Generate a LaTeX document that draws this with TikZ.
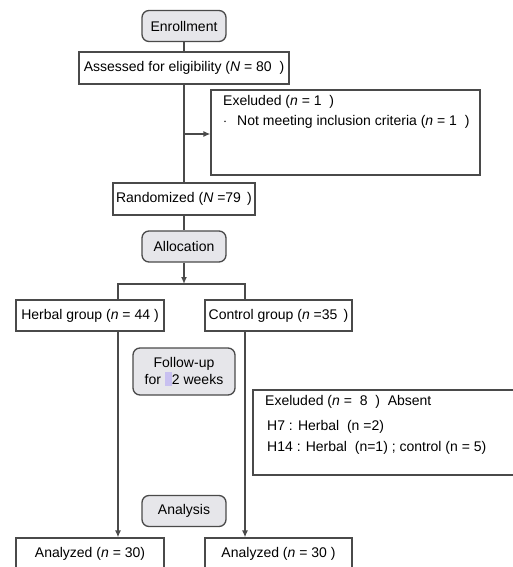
\documentclass[tikz,border=0pt]{standalone}
\usepackage{fontspec}
\setmainfont{Liberation Sans}
\usetikzlibrary{arrows.meta}
\definecolor{stagefill}{HTML}{E6E6EA}
\definecolor{edge}{HTML}{4A4A4A}
\definecolor{mark}{HTML}{C8C0F0}
\tikzset{
  box/.style={draw=edge, line width=1.3pt, minimum height=32pt, inner sep=2pt},
  stage/.style={draw=edge, line width=1.3pt, fill=stagefill, rounded corners=7pt, minimum width=84pt, minimum height=31pt, inner sep=2pt, align=center},
  txt/.style={anchor=north west, inner sep=0pt, align=left},
  link/.style={draw=edge, line width=1.3pt},
  go/.style={link, -{Latex[length=7pt,width=6pt]}}
}
\begin{document}
\begin{tikzpicture}[x=1pt,y=-1pt,font=\fontsize{14}{17}\selectfont]
			    \useasboundingbox (0,0) rectangle (512,567);
			    \node[stage] (EN) at (184,26) {Enrollment};
		    	\node[box, minimum width=210pt] (AS) at (184,68) {Assessed for eligibility (\textit{N} = 80 \ )};
		    	\node[box, minimum width=269pt, minimum height=85pt] (EX) at (345.5,132.5) {};
		    	\node[txt] (EXa) at (223,95) {Exeluded (\textit{n} = 1 \ )};
		    	\node[txt] (EXb) at (223,115) {$\cdot$\hspace{10pt}Not meeting inclusion criteria (\textit{n} = 1 \ )};
		    	\node[box, minimum width=142pt] (RA) at (184,199) {Randomized (\textit{N} =79 \,)};
		    	\node[stage] (AL) at (184,246.5) {Allocation};
		    	\coordinate (SP) at (184,284);
		    	\node[box, minimum width=148pt, minimum height=31pt] (HG) at (90,315.5) {Herbal group (\textit{n} = 44 )};
		    	\node[box, minimum width=147pt, minimum height=31pt] (CG) at (278.5,315.5) {Control group (\textit{n} =35 \,)};
		    	\node[stage, minimum width=102pt, minimum height=47pt] (FU) at (184,371.5) {Follow-up\\for {\color{mark}\rule[-2pt]{7pt}{14pt}}2 weeks};
		    	\node[box, minimum width=270pt, minimum height=85pt] (EY) at (388,432.5) {};
		    	\node[txt] (EYa) at (265,395) {Exeluded (\textit{n} = \ 8 \ ) \ Absent};
		    	\node[txt] (EYb) at (267,420) {H7 : Herbal \ (n =2)};
		    	\node[txt] (EYc) at (267,441) {H14 : Herbal \ (n=1) ; control (n = 5)};
		    	\node[stage] (AN) at (184,511) {Analysis};
		    	\node[box, minimum width=148pt] (HA) at (90,554) {Analyzed (\textit{n} = 30)};
		    	\node[box, minimum width=147pt] (CA) at (278.5,554) {Analyzed (\textit{n} = 30 )};
		    	
		    	\draw[link] (EN)--(AS);
		    	\draw[link] (AS)--(RA);
		    	\draw[go] (184,134)--(EX.west |- 0,134);
		    	\draw[link] (RA)--(AL);
		    	\draw[go] (AL)--(SP);
		    	\draw[link] (HG.north -| 118,0)--(118,284)--(245,284)--(CG.north -| 245,0);
		    	\draw[go] (HG.south -| 118,0)--(HA.north -| 118,0);
	    	    \draw[go] (CG.south -| 245,0)--(CA.north -| 245,0);
		    \end{tikzpicture}
\end{document}
